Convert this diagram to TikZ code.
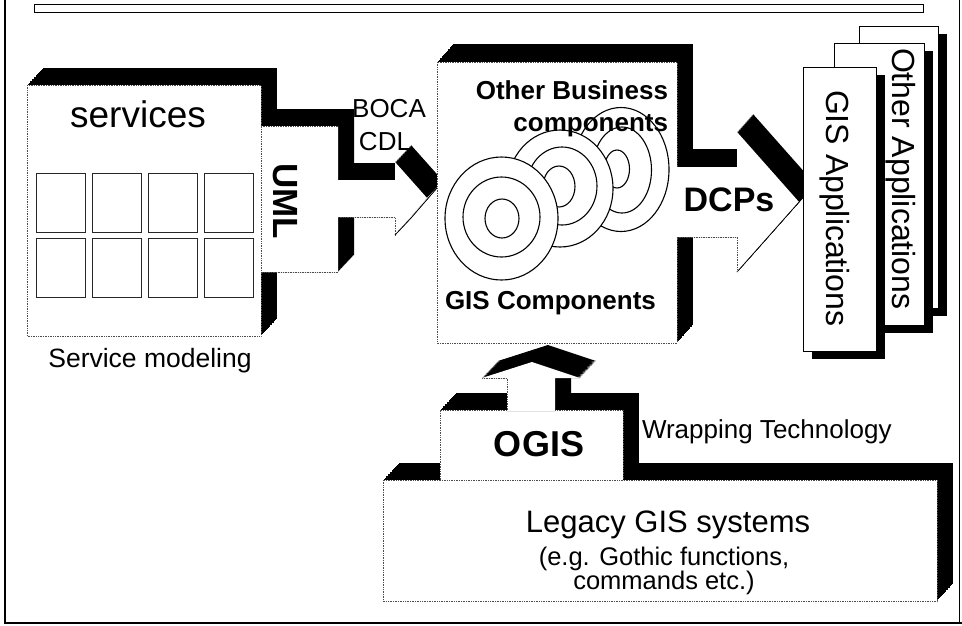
\documentclass[tikz,border=0pt]{standalone}
\usepackage{fontspec}
\setmainfont{Liberation Sans}
\newcommand\fs[1]{\fontsize{#1}{#1}\selectfont}
\newcommand\solidshape[3]{%
  \foreach \k in {0,...,24}{\fill[black,shift={({\k*(#2)/24},{\k*(#3)/24})}] #1 -- cycle;}%
  \fill[white] #1 -- cycle;}
\tikzset{
  edge/.style={draw=black!70, densely dotted, line width=0.7pt},
  cell/.style={draw=black!85, line width=0.9pt},
  ring/.style={draw=black, fill=white, line width=1.1pt},
  card/.style={draw=black, fill=white, line width=0.9pt},
  shade/.style={fill=black},
  lbl/.style={inner sep=0pt, outer sep=0pt},
  rim/.style={draw=black, line width=0.8pt},
}
\begin{document}
\begin{tikzpicture}[x=1pt,y=-1pt]
\useasboundingbox (0,0) rectangle (962,625);
% outer frame
\draw[line width=2.5pt] (5,0) -- (5,623) -- (962,623);
\draw[line width=1pt] (959,0) -- (959,623);
\draw[line width=0.8pt] (34,4) rectangle (923,12);

% services box
\solidshape{(27,85) -- (261,85) -- (261,336) -- (27,336)}{16}{-17}
\draw[edge] (27,85) rectangle (261,336);
\foreach \c in {36,92,148,204}{
  \foreach \r in {173,238}{
    \draw[cell] (\c,\r) rectangle ++(49.5,59);
  }
}
\node[lbl, anchor=base, font=\fs{37}] (services) at (138,127) {services};
\node[lbl, anchor=base, font=\fs{26.5}] (svcmod) at (150,367) {Service modeling};

% UML arrow
\solidshape{(261,126) -- (338,126) -- (338,180) -- (395,180) -- (395,162) -- (427,198) -- (395,235) -- (395,217) -- (338,217) -- (338,272) -- (261,272)}{16}{-17}
\fill[white] (427,198) -- (395,235) -- (411,218) -- (443,181) -- cycle;
\draw[rim] (395,235) -- (411,218) -- (443,181);
\draw[edge] (338,126) -- (261,126) -- (261,272) -- (338,272);
\draw[edge] (338,217) -- (395,217) -- (395,235);
\node[lbl, anchor=base west, rotate=-90, font=\bfseries\fs{35}] (uml) at (273,163) {UML};
\node[lbl, anchor=base, font=\fs{26}] (boca) at (389,117) {BOCA};
\node[lbl, anchor=base, font=\fs{26}] (cdl) at (385,150) {CDL};

% GIS components box
\solidshape{(437,62) -- (677,62) -- (677,343) -- (437,343)}{16}{-18}
\draw[edge] (437,62) rectangle (677,343);
% targets (back to front)
\draw[ring] (621,169.5) ellipse [x radius=48pt, y radius=62pt];
\draw[ring] (622,170) ellipse [x radius=29.5pt, y radius=43pt];
\draw[ring] (617,169) ellipse [x radius=12.5pt, y radius=19pt];
\draw[ring] (560,188.5) ellipse [x radius=53pt, y radius=58.5pt];
\draw[ring] (562,186) ellipse [x radius=35pt, y radius=39pt];
\draw[ring] (559,186.5) ellipse [x radius=16pt, y radius=20.5pt];
\draw[ring] (501.5,218.5) ellipse [x radius=56.5pt, y radius=61.5pt];
\draw[ring] (501.5,217) ellipse [x radius=38.5pt, y radius=40pt];
\draw[ring] (502,218.5) ellipse [x radius=17pt, y radius=19.5pt];
\node[lbl, anchor=base east, font=\bfseries\fs{26}] (otherbus) at (668,99) {Other Business};
\node[lbl, anchor=base east, font=\bfseries\fs{26}] (comps) at (668,131) {components};
\node[lbl, anchor=base west, font=\bfseries\fs{26}] (giscomp) at (445,309) {GIS Components};

% DCPs arrow
\solidshape{(677,167) -- (737,167) -- (737,132) -- (799,202) -- (737,272) -- (737,237) -- (677,237)}{16}{-18}
\fill[white] (799,202) -- (737,272) -- (753,254) -- (815,184) -- cycle;
\draw[rim] (737,272) -- (753,254) -- (815,184);
\draw[edge] (677,237) -- (737,237) -- (737,272);
\node[lbl, anchor=base, font=\bfseries\fs{34}] (dcps) at (729,211) {DCPs};

% application cards
\fill[shade] (868,34) rectangle (947,316);
\draw[card] (859,26) rectangle (938,308);
\fill[shade] (843,51) rectangle (933,333);
\draw[card] (834,43) rectangle (924,325);
\fill[shade] (812,75) rectangle (885,359);
\draw[card] (803,67) rectangle (876,351);
\node[lbl, anchor=base west, rotate=-90, font=\fs{32}] (otherapp) at (892,48) {Other Applications};
\node[lbl, anchor=base west, rotate=-90, font=\fs{32}] (gisapp) at (826,90) {GIS Applications};

% legacy + OGIS
\solidshape{(383,480) -- (937,480) -- (937,601) -- (383,601)}{16}{-17}
\solidshape{(440,410) -- (623,410) -- (623,480) -- (440,480)}{16}{-17}
\draw[edge] (383,480) rectangle (937,601);
\draw[edge] (440,480) -- (440,410) -- (623,410) -- (623,480);
\solidshape{(482,378) -- (532,362) -- (580,378) -- (555,378) -- (555,411) -- (507,411) -- (507,378)}{16}{-17}
\draw[edge] (507,410) -- (507,378) -- (482,378);
\node[lbl, anchor=base, font=\bfseries\fs{36}] (ogis) at (539,456) {OGIS};
\node[lbl, anchor=base west, font=\fs{26}] (wrap) at (642,438) {Wrapping Technology};
\node[lbl, anchor=base, font=\fs{31}] (legacy) at (668,532) {Legacy GIS systems};
\node[lbl, anchor=base, font=\fs{25.5}] (eg1) at (664,565) {(e.g. Gothic functions,};
\node[lbl, anchor=base, font=\fs{25.5}] (eg2) at (664,589) {commands etc.)};
\end{tikzpicture}
\end{document}
